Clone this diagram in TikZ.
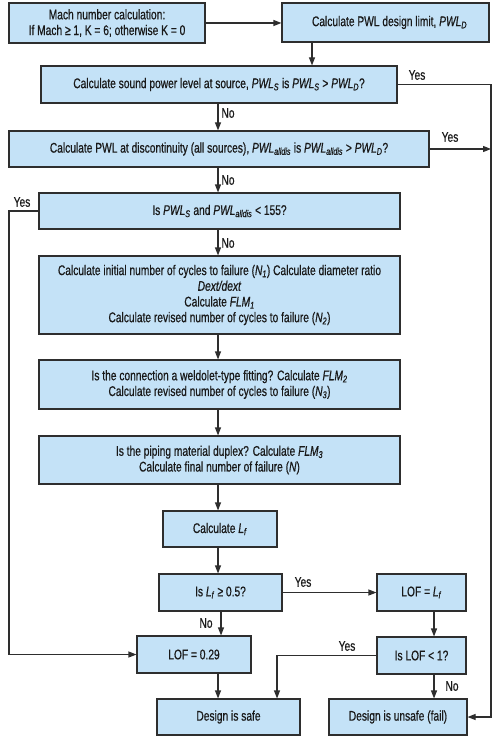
\documentclass[tikz,border=0pt]{standalone}
\usepackage{fontspec}
\setmainfont{Liberation Sans}[FakeStretch=0.73,FakeBold=0.6]
\usetikzlibrary{arrows.meta,calc}
\definecolor{boxfill}{HTML}{C4E2F7}
\definecolor{boxline}{HTML}{2E2E2E}
\newcommand{\sub}[1]{\textsubscript{\textit{#1}}}
\begin{document}
\begin{tikzpicture}[x=1pt,y=-1pt,
  box/.style={draw=boxline,line width=1.1pt,fill=boxfill,inner sep=0pt,align=center,
    font=\fontsize{14}{15.7}\selectfont,text=black!90},
  conn/.style={draw=boxline,line width=1.1pt},
  arr/.style={conn,-{Triangle[length=8pt,width=6pt]}},
  lbl/.style={font=\fontsize{14}{15.7}\selectfont,inner sep=0pt,text=black!90}]
\useasboundingbox (0,0) rectangle (500,738);
\coordinate (R) at (491,0);
\coordinate (L) at (9,0);
\coordinate (C) at (218,0);
\coordinate (Y) at (277,0);
\coordinate (D) at (434,0);
\node[box,minimum width=196pt,minimum height=40pt] (b1) at (107,23)
  {Mach number calculation:\\If Mach ≥ 1, K = 6; otherwise K = 0};
\node[box,minimum width=207pt,minimum height=39pt] (b2) at (385.5,22.5)
  {\hspace*{8pt}Calculate PWL design limit, \textit{PWL}\sub{D}};
\node[box,minimum width=356pt,minimum height=37pt] (b3) at (219,84.5)
  {Calculate sound power level at source, \textit{PWL}\sub{S} is \textit{PWL}\sub{S} > \textit{PWL}\sub{D}?};
\node[box,minimum width=420pt,minimum height=36pt] (b4) at (219,149)
  {Calculate PWL at discontinuity (all sources), \textit{PWL}\sub{alldis} is \textit{PWL}\sub{alldis} > \textit{PWL}\sub{D}?};
\node[box,minimum width=361pt,minimum height=36pt] (b5) at (219.5,211)
  {Is \textit{PWL}\sub{S} and \textit{PWL}\sub{alldis} < 155?};
\node[box,minimum width=361pt,minimum height=78pt] (b6) at (219.5,295)
  {Calculate initial number of cycles to failure (\textit{N}\sub{1}) Calculate diameter ratio\\
   \textit{Dext/dext}\\Calculate \textit{FLM}\sub{1}\\Calculate revised number of cycles to failure (\textit{N}\sub{2})};
\node[box,minimum width=361pt,minimum height=49pt] (b7) at (219.5,384.5)
  {Is the connection a weldolet-type fitting? Calculate \textit{FLM}\sub{2}\\
   Calculate revised number of cycles to failure (\textit{N}\sub{3})};
\node[box,minimum width=361pt,minimum height=48pt] (b8) at (219.5,460)
  {Is the piping material duplex? Calculate \textit{FLM}\sub{3}\\
   Calculate final number of failure (\textit{N})};
\node[box,minimum width=114pt,minimum height=36pt] (b9) at (220,529)
  {Calculate \textit{L}\sub{f}};
\node[box,minimum width=123pt,minimum height=37pt] (b10) at (220.5,592.5)
  {Is \textit{L}\sub{f} ≥ 0.5?};
\node[box,minimum width=89pt,minimum height=37pt] (b11) at (421.5,592.5)
  {LOF = \textit{L}\sub{f}};
\node[box,minimum width=114pt,minimum height=37pt] (b12) at (194,654.5)
  {LOF = 0.29};
\node[box,minimum width=89pt,minimum height=37pt] (b13) at (421.5,655.5)
  {Is LOF < 1?};
\node[box,minimum width=143pt,minimum height=36pt] (b14) at (228.5,717)
  {Design is safe};
\node[box,minimum width=138pt,minimum height=36pt] (b15) at (398,717)
  {Design is unsafe (fail)};
% connectors
\draw[arr] (b1.east) -- (b1.east -| b2.west);
\draw[arr] (b2.south -| 312,0) -- (b3.north -| 312,0);
\draw[arr] (b3.south -| C) -- (b4.north -| C);
\draw[arr] (b4.south -| C) -- (b5.north -| C);
\draw[arr] (b5.south -| C) -- (b6.north -| C);
\draw[arr] (b6.south -| C) -- (b7.north -| C);
\draw[arr] (b7.south -| C) -- (b8.north -| C);
\draw[arr] (b8.south -| C) -- (b9.north -| C);
\draw[arr] (b9.south -| C) -- (b10.north -| C);
\draw[arr] (b10.south -| 221,0) -- (b12.north -| 221,0);
\draw[arr] (b12.south -| C) -- (b14.north -| C);
\draw[arr] (b10.east) -- (b11.west);
\draw[arr] (b11.south -| D) -- (b13.north -| D);
\draw[arr] (b13.south -| D) -- (b15.north -| D);
\draw[arr] (b13.west) -| (Y |- b14.north);
\draw[arr] (b3.east) -| (R |- b15.east) -- (b15.east);
\draw[arr] (b4.east) -- (b4.east -| R);
\draw[arr] (b5.west) -| (L |- b12.west) -- (b12.west);
% labels
\node[lbl] (y1) at (417,75) {Yes};
\node[lbl] (n1) at (228,113) {No};
\node[lbl] (y2) at (450,137) {Yes};
\node[lbl] (n2) at (228,180) {No};
\node[lbl] (y3) at (22,202) {Yes};
\node[lbl] (n3) at (228,243) {No};
\node[lbl] (y4) at (303,582) {Yes};
\node[lbl] (n4) at (206,623) {No};
\node[lbl] (y5) at (347,646) {Yes};
\node[lbl] (n5) at (452,686) {No};
\end{tikzpicture}
\end{document}
